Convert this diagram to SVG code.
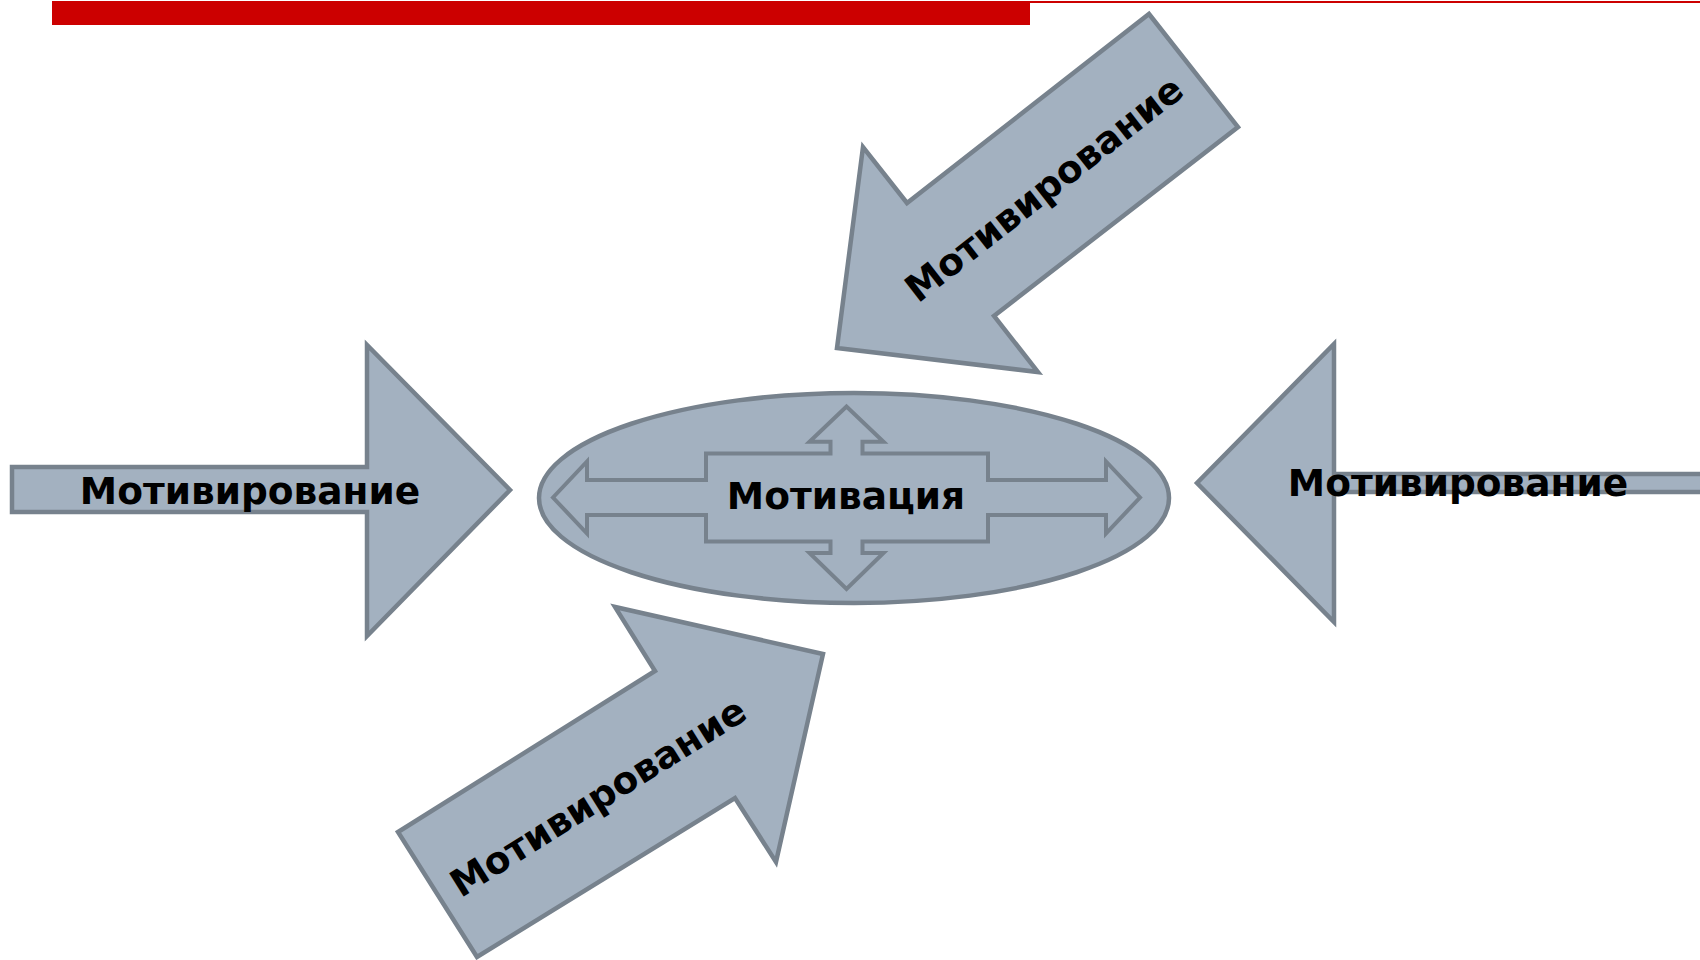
<svg xmlns="http://www.w3.org/2000/svg" width="1700" height="960" viewBox="0 0 1700 960">
<style>
.shape{fill:#a3b1c0;stroke:#77828d;stroke-width:4.5;stroke-linejoin:miter}
.inner{fill:#a3b1c0;stroke:#77828d;stroke-width:4}
.lbl{font-family:"DejaVu Sans","Verdana",sans-serif;font-weight:bold;font-size:37.5px;fill:#000;text-anchor:middle}
</style>
<rect width="1700" height="960" fill="#ffffff"/>
<g id="header">
<rect x="52" y="1" width="1648" height="2" fill="#cc0000"/>
<rect x="52" y="1" width="978" height="24" fill="#cc0000"/>
</g>
<g id="connectors">
<g id="arrow-left">
<polygon class="shape" points="12,467 367,467 367,345 510,490 367,636 367,512 12,512"/>
<text class="lbl" x="250" y="504">Мотивирование</text>
</g>
<g id="arrow-right">
<polygon class="shape" points="1712,474 1334,474 1334,344 1197,483 1334,622 1334,492 1712,492"/>
<text class="lbl" x="1458" y="496">Мотивирование</text>
</g>
<g id="arrow-top">
<polygon class="shape" points="1149,14 1238,127 994,316 1038,372 837,348 863,147 907,203"/>
<text class="lbl" x="1052" y="199" transform="rotate(-38 1052 199)">Мотивирование</text>
</g>
<g id="arrow-bottom">
<polygon class="shape" points="477,957 398,832 655,671 615,607 823,654 776,862 735,798"/>
<text class="lbl" x="605" y="808" transform="rotate(-32 605 808)">Мотивирование</text>
</g>
</g>
<g id="node-motivation">
<ellipse class="shape" cx="854" cy="498" rx="315" ry="105"/>
<polygon class="inner" points="553,497.5 587,461.5 587,480 706,480 706,453.5 830.5,453.5 830.5,441.7 809.5,441.7 846.5,406.5 883.5,441.7 862.5,441.7 862.5,453.5 988,453.5 988,480 1106,480 1106,461.5 1140,497.5 1106,533.5 1106,515 988,515 988,541.5 862.5,541.5 862.5,553 883.5,553 846.5,589 809.5,553 830.5,553 830.5,541.5 706,541.5 706,515 587,515 587,533.5"/>
<text class="lbl" x="846" y="509">Мотивация</text>
</g>
</svg>
